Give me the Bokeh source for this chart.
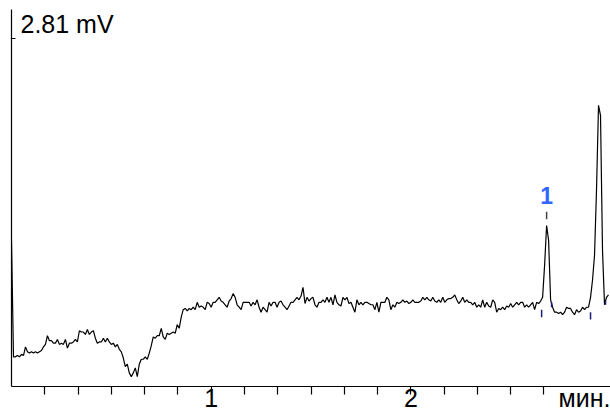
import numpy as np
from bokeh.plotting import figure
from bokeh.models import Range1d, FixedTicker, Label, LinearAxis, ColumnDataSource
from bokeh.core.properties import value
from bokeh.embed import file_html
from bokeh.resources import INLINE

# ---- data (mV vs minutes), sampled every 0.01 min ----
signal_mv = [
    1.18, 0.24, 0.24, 0.25, 0.24, 0.26, 0.25, 0.32, 0.28, 0.27,
    0.28, 0.27, 0.28, 0.27, 0.28, 0.29, 0.32, 0.34, 0.41, 0.37,
    0.37, 0.35, 0.35, 0.38, 0.34, 0.35, 0.34, 0.38, 0.31, 0.35,
    0.35, 0.36, 0.38, 0.36, 0.45, 0.44, 0.44, 0.42, 0.46, 0.42,
    0.44, 0.45, 0.39, 0.35, 0.36, 0.36, 0.39, 0.36, 0.39, 0.36,
    0.34, 0.35, 0.32, 0.34, 0.30, 0.28, 0.23, 0.16, 0.18, 0.11,
    0.08, 0.11, 0.15, 0.08, 0.18, 0.22, 0.22, 0.24, 0.22, 0.27,
    0.33, 0.40, 0.39, 0.41, 0.41, 0.47, 0.40, 0.38, 0.43, 0.42,
    0.43, 0.44, 0.43, 0.50, 0.47, 0.56, 0.62, 0.63, 0.61, 0.63,
    0.62, 0.64, 0.62, 0.68, 0.64, 0.65, 0.64, 0.62, 0.68, 0.67,
    0.64, 0.68, 0.68, 0.70, 0.72, 0.69, 0.68, 0.66, 0.64, 0.69,
    0.71, 0.75, 0.72, 0.66, 0.64, 0.62, 0.68, 0.68, 0.68, 0.68,
    0.65, 0.68, 0.66, 0.70, 0.64, 0.60, 0.64, 0.62, 0.60, 0.68,
    0.65, 0.68, 0.68, 0.64, 0.68, 0.69, 0.66, 0.64, 0.62, 0.65,
    0.68, 0.68, 0.70, 0.72, 0.70, 0.73, 0.80, 0.67, 0.72, 0.69,
    0.71, 0.72, 0.66, 0.64, 0.68, 0.68, 0.70, 0.68, 0.72, 0.68,
    0.72, 0.66, 0.74, 0.68, 0.66, 0.65, 0.72, 0.70, 0.72, 0.67,
    0.68, 0.64, 0.60, 0.70, 0.66, 0.68, 0.66, 0.68, 0.68, 0.67,
    0.66, 0.66, 0.62, 0.68, 0.60, 0.68, 0.68, 0.68, 0.72, 0.70,
    0.62, 0.66, 0.64, 0.68, 0.67, 0.68, 0.70, 0.68, 0.69, 0.67,
    0.68, 0.70, 0.68, 0.68, 0.68, 0.69, 0.72, 0.70, 0.72, 0.70,
    0.69, 0.72, 0.69, 0.68, 0.70, 0.68, 0.72, 0.68, 0.70, 0.71,
    0.71, 0.72, 0.74, 0.70, 0.67, 0.69, 0.72, 0.68, 0.70, 0.68,
    0.68, 0.66, 0.68, 0.64, 0.66, 0.64, 0.70, 0.64, 0.68, 0.65,
    0.64, 0.70, 0.68, 0.60, 0.63, 0.62, 0.64, 0.62, 0.65, 0.64,
    0.67, 0.64, 0.66, 0.68, 0.66, 0.68, 0.68, 0.64, 0.66, 0.64,
    0.66, 0.68, 0.62, 0.68, 0.67, 0.69, 0.72, 0.98, 1.30, 1.18,
    0.70, 0.64, 0.60, 0.60, 0.59, 0.60, 0.58, 0.60, 0.64, 0.63,
    0.63, 0.60, 0.58, 0.62, 0.60, 0.61, 0.64, 0.62, 0.64, 0.64,
    0.72, 0.86, 1.06, 1.59, 2.27, 2.19, 1.10, 0.66, 0.72, 0.74,
]
sample_step_min = 0.01
time_min = [round(i * sample_step_min, 2) for i in range(len(signal_mv))]

# tick marks every 10 s; text labels on whole minutes plus the unit
x_tick_marks = [0.1667, 0.3333, 0.5, 0.6667, 0.8333, 1.0, 1.1667, 1.3333,
                1.5, 1.6667, 1.8333, 2.0, 2.1667, 2.3333, 2.5, 2.6667]
x_label_pos = [1, 2, 2.9]
x_label_text = ["1", "2", "мин."]

y_top_value = 2.81
y_top_label = "2.81 mV"

peak_times = [2.68]
peak_heights = [1.30]
peak_names = ["1"]

integ_times = [2.655, 2.705, 2.90, 2.975]
integ_low = [0.56, 0.64, 0.54, 0.66]
integ_high = [0.62, 0.68, 0.60, 0.69]

FONT = "Liberation Sans"

p = figure(width=610, height=414,
           x_range=Range1d(0, 3.0), y_range=Range1d(0, 3.044),
           x_axis_type=None, y_axis_type=None,
           output_backend="svg", toolbar_location=None,
           min_border_left=11, min_border_right=0,
           min_border_top=9, min_border_bottom=27)
p.outline_line_color = None
p.background_fill_color = "white"
p.border_fill_color = "white"

xaxis = LinearAxis(ticker=FixedTicker(ticks=x_label_pos, minor_ticks=x_tick_marks),
                   major_label_overrides=dict(zip(x_label_pos, x_label_text)))
xaxis.major_tick_out = 0
xaxis.major_tick_in = 0
xaxis.minor_tick_out = 8
xaxis.minor_tick_in = 0
xaxis.minor_tick_line_color = "black"
xaxis.minor_tick_line_width = 1.2
xaxis.major_label_text_font = FONT
xaxis.major_label_text_font_size = "25px"
xaxis.major_label_text_color = "black"
xaxis.major_label_standoff = -11
xaxis.axis_line_color = "black"
xaxis.axis_line_width = 1.2
p.add_layout(xaxis, "below")

yaxis = LinearAxis(ticker=FixedTicker(ticks=[y_top_value]),
                   major_label_overrides={y_top_value: ""})
yaxis.major_tick_out = 0
yaxis.major_tick_in = 4
yaxis.minor_tick_line_color = None
yaxis.major_label_standoff = 0
yaxis.axis_line_color = "black"
yaxis.axis_line_width = 1.2
yaxis.major_tick_line_color = "black"
p.add_layout(yaxis, "left")

src = ColumnDataSource(dict(t=time_min, v=signal_mv))
p.line("t", "v", source=src, line_color="black", line_width=1.2)

# integration markers
p.segment(x0=integ_times, y0=integ_low, x1=integ_times, y1=integ_high,
          line_color="#1c1c7a", line_width=1.5)

# peak marker dash and label
p.segment(x0=peak_times, y0=[h + 0.05 for h in peak_heights],
          x1=peak_times, y1=[h + 0.11 for h in peak_heights],
          line_color="#444444", line_width=1.5)
p.text(x=peak_times, y=[h + 0.24 for h in peak_heights], text=peak_names,
       text_align="center", text_baseline="alphabetic",
       text_font=value(FONT), text_font_style="bold",
       text_font_size="23px", text_color="#3366ff")

# full-scale label
p.add_layout(Label(x=9, y=y_top_value, x_units="screen", y_units="data",
                   y_offset=14, text=y_top_label, text_align="left",
                   text_baseline="alphabetic",
                   text_font=FONT, text_font_size="25px", text_color="black"))

open("out.html", "w").write(file_html(p, INLINE))
